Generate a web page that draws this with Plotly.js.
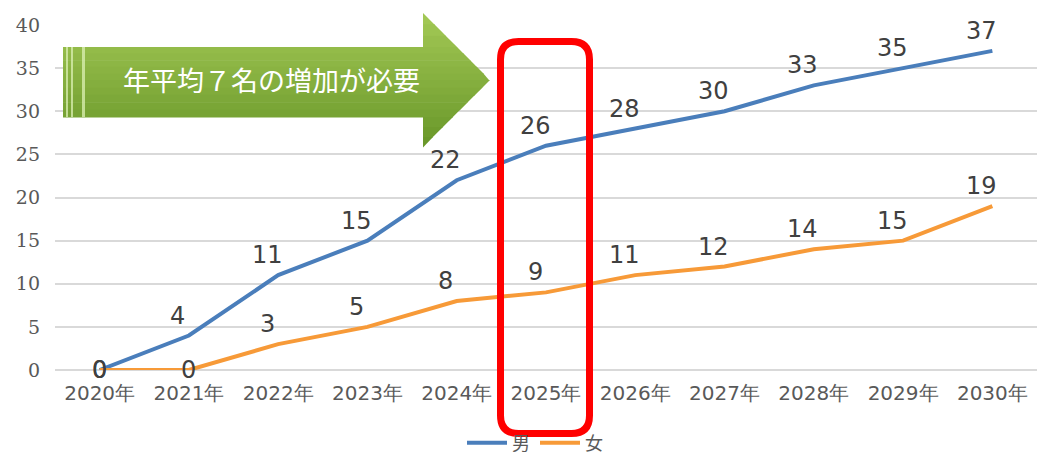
<!DOCTYPE html>
<html>
<head>
<meta charset="utf-8">
<script src="https://cdn.plot.ly/plotly-3.0.1.min.js"></script>
<style>html,body{margin:0;padding:0;background:#fff;}#chart{width:1037px;height:454px;}</style>
</head>
<body>
<div id="chart"></div>
<script>
const years = ["2020年","2021年","2022年","2023年","2024年","2025年","2026年","2027年","2028年","2029年","2030年"];
const male = [0,4,11,15,22,26,28,30,33,35,37];
const female = [0,0,3,5,8,9,11,12,14,15,19];
const seriesNames = ["男","女"];
const arrowText = "年平均７名の増加が必要";

const W = 1037, H = 454;
const M = {l:55, r:0, t:25, b:84};
const PW = W - M.l - M.r, PH = H - M.t - M.b;
const px = x => ((x - M.l) / PW).toFixed(5);
const py = y => ((H - M.b - y) / PH).toFixed(5);

const labelFont = {family:"DejaVu Sans, sans-serif", size:24, color:"#404040"};
const annotations = [];
function addLabels(vals){
  vals.forEach((v,i)=>{
    annotations.push({x:i, y:v, xref:'x', yref:'y', text:String(v), showarrow:false,
      xshift: v===0 ? 0 : -11, yshift: v===0 ? 0 : 20, font:labelFont});
  });
}
addLabels(male);
addLabels(female);

// arrow text
annotations.push({xref:'paper', yref:'paper', x:+px(271), y:+py(80), text:arrowText, showarrow:false,
  font:{family:"Noto Sans CJK JP, sans-serif", size:27, color:"#ffffff"}, xanchor:'center', yanchor:'middle'});

// arrow geometry (pixel space)
const A = {left:63, bodyTop:47, bodyBot:117, headX:423, headTop:13, tip:490, tipY:80, headBot:147};
function rightEdge(y){ return A.headX + (A.tip - A.headX) * (1 - Math.abs(y - A.tipY) / (A.tipY - A.headTop)); }
function leftEdge(ya,yb){ return (ya >= A.bodyTop && yb <= A.bodyBot) ? A.left : A.headX; }
function lerp(a,b,t){ return Math.round(a + (b-a)*t); }
const cTop = [163,201,86], cBot = [104,150,40];
const bounds = [];
function seg(a,b,n){ for(let k=0;k<n;k++) bounds.push([a+(b-a)*k/n, a+(b-a)*(k+1)/n]); }
seg(A.headTop, A.bodyTop, 3); seg(A.bodyTop, A.tipY, 5); seg(A.tipY, A.bodyBot, 5); seg(A.bodyBot, A.headBot, 3);
const shapes = [];
bounds.forEach(([ya,yb])=>{
  const t = ((ya+yb)/2 - A.headTop) / (A.headBot - A.headTop);
  const col = `rgb(${lerp(cTop[0],cBot[0],t)},${lerp(cTop[1],cBot[1],t)},${lerp(cTop[2],cBot[2],t)})`;
  const lx = leftEdge(ya,yb);
  const yb2 = yb + 0.6;
  const path = `M${px(lx)},${py(ya)} L${px(rightEdge(ya))},${py(ya)} L${px(rightEdge(Math.min(yb2,A.headBot)))},${py(yb2)} L${px(lx)},${py(yb2)} Z`;
  shapes.push({type:'path', xref:'paper', yref:'paper', path:path, fillcolor:col, line:{width:0}, layer:'above'});
});
// stripes on arrow tail
[[66,68],[71,73],[82,85]].forEach(([a,b])=>{
  shapes.push({type:'rect', xref:'paper', yref:'paper', x0:+px(a), x1:+px(b), y0:+py(A.bodyBot), y1:+py(A.bodyTop),
    fillcolor:'rgba(220,240,180,0.75)', line:{width:0}, layer:'above'});
});

// red rounded rectangle
const R = {l:500.5, r:589.5, t:41.5, b:433.5, rad:18};
const rpath = `M${px(R.l+R.rad)},${py(R.t)} L${px(R.r-R.rad)},${py(R.t)} Q${px(R.r)},${py(R.t)} ${px(R.r)},${py(R.t+R.rad)} ` +
  `L${px(R.r)},${py(R.b-R.rad)} Q${px(R.r)},${py(R.b)} ${px(R.r-R.rad)},${py(R.b)} ` +
  `L${px(R.l+R.rad)},${py(R.b)} Q${px(R.l)},${py(R.b)} ${px(R.l)},${py(R.b-R.rad)} ` +
  `L${px(R.l)},${py(R.t+R.rad)} Q${px(R.l)},${py(R.t)} ${px(R.l+R.rad)},${py(R.t)} Z`;
shapes.push({type:'path', xref:'paper', yref:'paper', path:rpath, line:{color:'#ff0000', width:7}, fillcolor:'rgba(0,0,0,0)', layer:'above'});

const traces = [
  {x:years, y:male, name:seriesNames[0], type:'scatter', mode:'lines', line:{color:'#4a7ebb', width:4}},
  {x:years, y:female, name:seriesNames[1], type:'scatter', mode:'lines', line:{color:'#f79a38', width:4}}
];

const layout = {
  width:W, height:H, margin:Object.assign({autoexpand:false}, M),
  paper_bgcolor:'#ffffff', plot_bgcolor:'#ffffff',
  showlegend:true,
  legend:{orientation:'h', x:+px(535), xanchor:'center', y:+py(443), yanchor:'middle', bgcolor:'rgba(0,0,0,0)',
    font:{family:"Noto Sans CJK JP, sans-serif", size:18, color:'#595959'}, itemwidth:40},
  xaxis:{type:'category', range:[-0.5,10.5], showgrid:false, zeroline:false, showline:false, ticks:'', automargin:false,
    ticklabelstandoff:9,
    tickfont:{family:"DejaVu Sans, sans-serif", size:20, color:'#595959'}, fixedrange:true},
  yaxis:{range:[0,40], dtick:5, showgrid:true, gridcolor:'#d9d9d9', gridwidth:2, zeroline:true, zerolinecolor:'#d9d9d9', zerolinewidth:2,
    showline:false, ticks:'', ticklabelstandoff:14, automargin:false,
    tickfont:{family:"DejaVu Serif, serif", size:19, color:'#595959'}, fixedrange:true},
  annotations:annotations,
  shapes:shapes
};
Plotly.newPlot('chart', traces, layout, {displayModeBar:false, staticPlot:true});
</script>
</body>
</html>
